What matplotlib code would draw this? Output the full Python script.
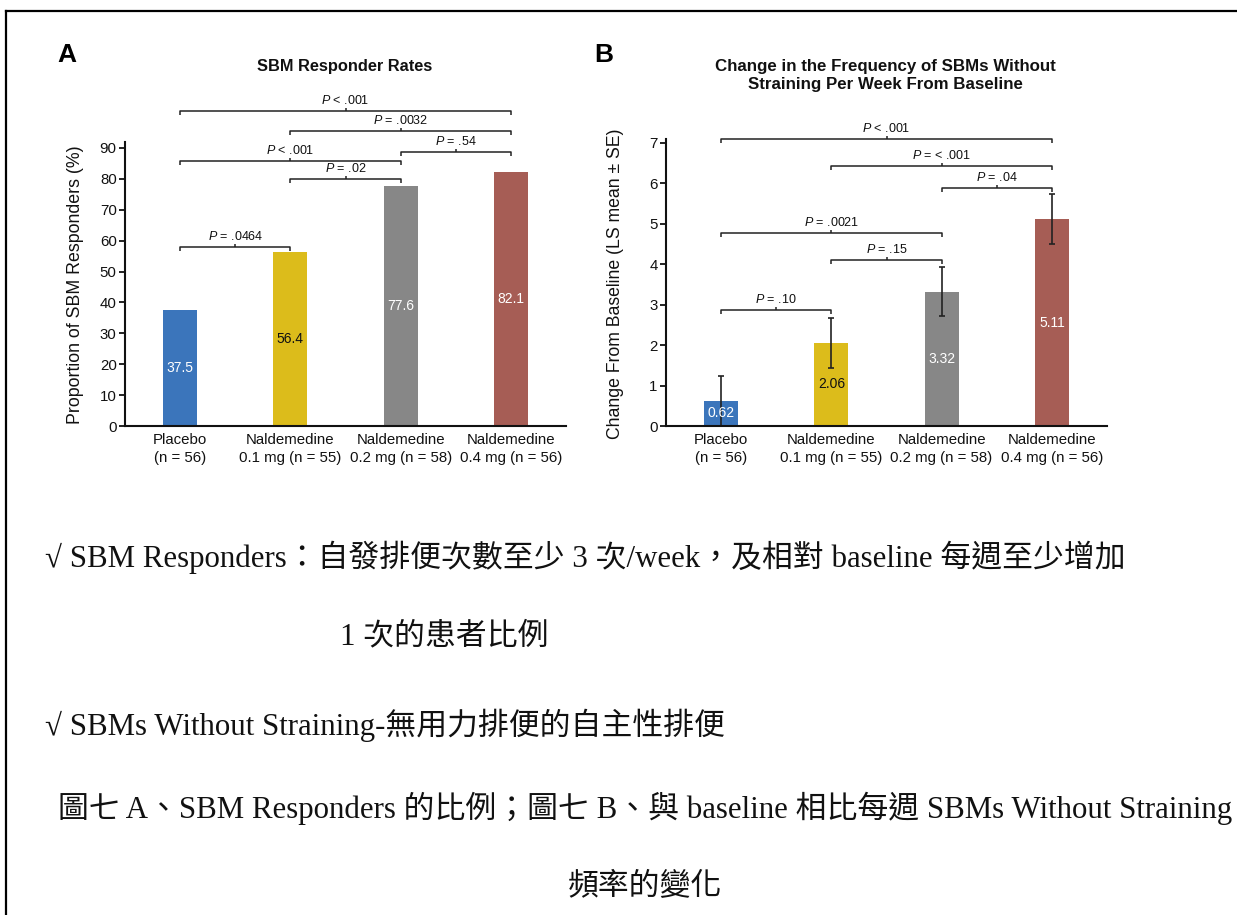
import matplotlib
matplotlib.use('Agg')
import matplotlib.pyplot as plt
from matplotlib.lines import Line2D
import numpy as np

plt.rcParams['font.family'] = ['Liberation Sans', 'DejaVu Sans']
plt.rcParams['mathtext.fontset'] = 'custom'
plt.rcParams['mathtext.it'] = 'Liberation Sans:italic'
plt.rcParams['mathtext.rm'] = 'Liberation Sans'

# data
groups = ['Placebo\n(n = 56)', 'Naldemedine\n0.1 mg (n = 55)',
          'Naldemedine\n0.2 mg (n = 58)', 'Naldemedine\n0.4 mg (n = 56)']
responder_rate = [37.5, 56.4, 77.6, 82.1]
sbm_change = [0.62, 2.06, 3.32, 5.11]
sbm_se = [0.61, 0.62, 0.61, 0.62]

comparisons_a = [(0, 1, '$P$ = .0464'), (1, 2, '$P$ = .02'), (0, 2, '$P$ < .001'),
                 (2, 3, '$P$ = .54'), (1, 3, '$P$ = .0032'), (0, 3, '$P$ < .001')]
comparisons_b = [(0, 1, '$P$ = .10'), (1, 2, '$P$ = .15'), (0, 2, '$P$ = .0021'),
                 (2, 3, '$P$ = .04'), (1, 3, '$P$ = < .001'), (0, 3, '$P$ < .001')]

# layout (bracket heights in data units)
bracket_y_a = [58.0, 79.9, 85.8, 88.8, 95.6, 102.1]
bracket_y_b = [2.87, 4.11, 4.77, 5.89, 6.43, 7.10]

colors = ['#3b75bb', '#dcbc1b', '#878787', '#a65d55']
label_colors = ['white', '#111111', 'white', 'white']

W, H = 1237, 915
fig = plt.figure(figsize=(W / 100, H / 100), dpi=100)


def fx(px):
    return px / W


def fy(py):
    return 1 - py / H


def style_axes(ax):
    for s in ['top', 'right']:
        ax.spines[s].set_visible(False)
    for s in ['left', 'bottom']:
        ax.spines[s].set_linewidth(1.5)
        ax.spines[s].set_color('#111111')
    ax.tick_params(axis='y', length=4, width=1.3, pad=2, labelsize=10.8, colors='#111111')
    ax.tick_params(axis='x', length=0, pad=5, labelsize=10.8, colors='#111111')
    for lab in ax.get_xticklabels():
        lab.set_linespacing(1.35)


def bracket(ax, i, j, y, label):
    y0, y1 = ax.get_ylim()
    ppu = ax.get_window_extent().height / (y1 - y0)
    d_end = 4 / ppu
    d_mid = 3 / ppu
    kw = dict(color='#222222', lw=1.1, clip_on=False, solid_capstyle='butt')
    ax.plot([i, i, j, j], [y - d_end, y, y, y - d_end], **kw)
    m = (i + j) / 2
    ax.plot([m, m], [y, y + d_mid], **kw)
    ax.text(m, y + 4 / ppu, label, ha='center', va='bottom', fontsize=9,
            color='#111111', clip_on=False)


x = np.arange(len(groups))

# Panel A
axA = fig.add_axes([fx(125), fy(426), fx(566 - 125), (426 - 142) / H])
axA.bar(x, responder_rate, width=0.31, color=colors)
axA.set_xlim(-0.5, 3.5)
axA.set_ylim(0, (426 - 142) / 3.089)
axA.set_yticks(np.arange(0, 91, 10))
axA.set_xticks(x)
axA.set_xticklabels(groups)
style_axes(axA)
for xi, v, c in zip(x, responder_rate, label_colors):
    axA.text(xi, v / 2, f'{v}', ha='center', va='center', color=c, fontsize=10)
for (i, j, lab), y in zip(comparisons_a, bracket_y_a):
    bracket(axA, i, j, y, lab)

# Panel B
axB = fig.add_axes([fx(666), fy(426), fx(1107 - 666), (426 - 139) / H])
axB.bar(x, sbm_change, width=0.31, color=colors)
axB.errorbar(x, sbm_change, yerr=sbm_se, fmt='none', ecolor='#222222',
             elinewidth=1.2, capsize=2.5, capthick=1.2)
axB.set_xlim(-0.5, 3.5)
axB.set_ylim(0, (426 - 139) / 40.43)
axB.set_yticks(np.arange(0, 8, 1))
axB.set_xticks(x)
axB.set_xticklabels(groups)
style_axes(axB)
for xi, v, c in zip(x, sbm_change, label_colors):
    axB.text(xi, v / 2, f'{v:.2f}', ha='center', va='center', color=c, fontsize=10)
for (i, j, lab), y in zip(comparisons_b, bracket_y_b):
    bracket(axB, i, j, y, lab)

# panel letters, titles, y labels
fig.text(fx(67), fy(55), 'A', ha='center', va='center', fontsize=19, fontweight='bold')
fig.text(fx(604), fy(55), 'B', ha='center', va='center', fontsize=19, fontweight='bold')
fig.text(fx(345), fy(66), 'SBM Responder Rates', ha='center', va='center',
         fontsize=11.8, fontweight='bold', color='#111111')
fig.text(fx(885), fy(75.5), 'Change in the Frequency of SBMs Without\nStraining Per Week From Baseline',
         ha='center', va='center', fontsize=12.2, fontweight='bold', linespacing=1.3,
         color='#111111')
fig.text(fx(76), fy(285), 'Proportion of SBM Responders (%)', rotation=90,
         ha='center', va='center', fontsize=12.8, color='#111111')
fig.text(fx(616), fy(284), 'Change From Baseline (LS mean \u00b1 SE)', rotation=90,
         ha='center', va='center', fontsize=12.7, color='#111111')

# notes below the chart
note_font = ['Liberation Serif', 'Noto Sans CJK TC']
notes = [
    (45, 557, '\u221a SBM Responders\uff1a自發排便次數至少 3 次/week\uff0c及相對 baseline 每週至少增加'),
    (340, 637, '1 次的患者比例'),
    (45, 725, '\u221a SBMs Without Straining-無用力排便的自主性排便'),
    (58, 808, '圖七 A\u3001SBM Responders 的比例\uff1b圖七 B\u3001與 baseline 相比每週 SBMs Without Straining'),
    (568, 888, '頻率的變化'),
]
for px, py, t in notes:
    fig.text(fx(px), fy(py), t, ha='left', va='center', fontsize=22.2, family=note_font,
             color='#111111')

# page border (left and top)
fig.add_artist(Line2D([fx(6), fx(6)], [0, fy(11)], color='black', lw=1.6))
fig.add_artist(Line2D([fx(6), 1], [fy(11), fy(11)], color='black', lw=1.6))

fig.savefig('out.png', dpi=100)
